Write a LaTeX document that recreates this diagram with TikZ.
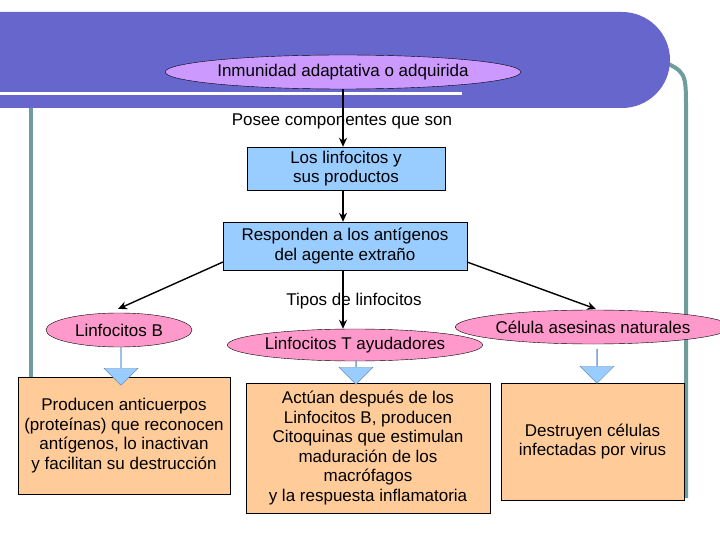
\documentclass[tikz,border=0pt]{standalone}
\usepackage{fontspec}
\setmainfont{Liberation Sans}
\usetikzlibrary{shapes.geometric,shapes.arrows,arrows.meta}
\definecolor{band}{HTML}{6666CC}
\definecolor{teal}{HTML}{6F9C9C}
\definecolor{lila}{HTML}{CC99FF}
\definecolor{lblue}{HTML}{99CCFF}
\definecolor{pink}{HTML}{FF99CC}
\definecolor{orange}{HTML}{FFCC99}
\begin{document}
\begin{tikzpicture}[x=1pt,y=-1pt,font=\fontsize{17}{19.5}\selectfont,
  ell/.style={ellipse,draw,inner sep=0pt},
  box/.style={rectangle,draw,align=center,inner sep=0pt},
  arr/.style={-{Stealth[length=9pt,width=8pt]},line width=1.4pt},
  blk/.style={single arrow,single arrow head extend=6pt,single arrow head indent=0pt,shape border rotate=270,fill=lblue,draw=lblue!70!black,minimum width=34pt,inner sep=0pt}]
\useasboundingbox (0,0) rectangle (720,540);
% frame
\draw[teal,line width=4pt] (31,100) -- (31,495);
\draw[teal,line width=4pt] (660,60) .. controls (686,72) .. (686,110) -- (686,498);
\fill[band,rounded corners=48pt] (-80,12) -- (670,12) -- (670,108) -- (-80,108) -- cycle;
\draw[white,line width=3pt] (0,94) -- (462,94);
% nodes
\node[ell,fill=lila,minimum width=290pt,minimum height=34pt] (e0) at (343,72) {Inmunidad adaptativa o adquirida};
\node (t0) at (342,121) {Posee componentes que son};
\node[box,fill=lblue,minimum width=198pt,minimum height=43pt] (b1) at (346,168.5) {Los linfocitos y\\ sus productos};
\node[box,fill=lblue,minimum width=244pt,minimum height=48pt] (b2) at (345,246) {Responden a los antígenos\\ del agente extraño};
\node (t1) at (354,301) {Tipos de linfocitos};
\node[ell,fill=pink,minimum width=146pt,minimum height=34pt] (eB) at (119,330) {Linfocitos B};
\node[ell,fill=pink,minimum width=200pt,minimum height=32pt] (eT) at (355,345) {Linfocitos T ayudadores};
\node[ell,fill=pink,minimum width=216pt,minimum height=34pt] (eN) at (593,327) {Célula asesinas naturales};
\node[box,fill=orange,minimum width=212pt,minimum height=117pt] (bB) at (124,435.5) {Producen anticuerpos\\(proteínas) que reconocen\\antígenos, lo inactivan\\y facilitan su destrucción};
\node[box,fill=orange,minimum width=244pt,minimum height=130pt] (bT) at (368,448) {Actúan después de los\\Linfocitos B, producen\\Citoquinas que estimulan\\maduración de los\\macrófagos\\y la respuesta inflamatoria};
\node[box,fill=orange,minimum width=183pt,minimum height=117pt] (bN) at (592.5,441.5) {Destruyen células\\infectadas por virus};
% connectors
\draw[arr] (e0.south) -- (b1.north -| e0.south);
\draw[arr] (b1.south -| e0.south) -- (b2.north -| e0.south);
\coordinate (bl) at (223,262);
\coordinate (br) at (467,262);
\draw[arr] (bl) -- (118,309);
\draw[arr] (br) -- (596,309);
\draw[arr] (b2.south -| e0.south) -- (eT.north -| e0.south);
% block arrows
\node[blk,minimum height=38pt] (aB) at (121,366) {};
\node[blk,minimum height=24pt] (aT) at (356,372) {};
\node[blk,minimum height=34pt] (aN) at (597,366) {};
\end{tikzpicture}
\end{document}
